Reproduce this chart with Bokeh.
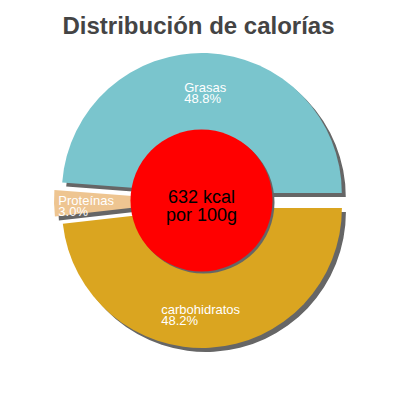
import numpy as np
from bokeh.plotting import figure
from bokeh.models import Range1d, ColumnDataSource
from bokeh.embed import file_html
from bokeh.resources import INLINE
from bokeh.core.properties import value

# ---- data ----
title_text = "Distribución de calorías"
labels = ["Grasas", "Proteínas", "carbohidratos"]
percents = [48.8, 3.0, 48.2]
colors = ["#7AC5CD", "#EEC591", "#DAA520"]
center_lines = ["632 kcal", "por 100g"]

# ---- geometry (pixel-like data units; y up) ----
cx, cy = 201.0, 200.0
R = 140.0
explode = 7.5
shadow_dx, shadow_dy = 4.0, -4.0
inner_r = 71.0
label_r = 103.5
label_font = 13
FONT = "Liberation Sans"

frac = np.array(percents) / np.sum(percents)
ends = np.cumsum(frac) * 2 * np.pi
starts = np.concatenate([[0.0], ends[:-1]])
mids = (starts + ends) / 2
wx = cx + explode * np.cos(mids)
wy = cy + explode * np.sin(mids)

src = ColumnDataSource(dict(
    x=wx, y=wy, sx=wx + shadow_dx, sy=wy + shadow_dy,
    start=starts, end=ends, color=colors,
))

p = figure(width=384, height=384, x_range=Range1d(0, 384), y_range=Range1d(16, 400),
           output_backend="svg", toolbar_location=None, min_border=0)
p.xaxis.visible = False
p.yaxis.visible = False
p.grid.visible = False
p.outline_line_color = None
p.background_fill_color = "white"
p.border_fill_color = "white"

# shadows
p.wedge(x="sx", y="sy", radius=R, start_angle="start", end_angle="end", source=src,
        fill_color="#666666", line_color=None, direction="anticlock")
# slices
p.wedge(x="x", y="y", radius=R, start_angle="start", end_angle="end", source=src,
        fill_color="color", line_color=None, direction="anticlock")

# center circle with shadow
p.circle(x=[cx + 2], y=[cy - 2], radius=inner_r, fill_color="#666666", line_color=None)
p.circle(x=[cx], y=[cy], radius=inner_r, fill_color="#FF0000", line_color=None)

# slice labels
lx = wx + label_r * np.cos(mids)
ly = wy + label_r * np.sin(mids)
pct_txt = [f"{v:.1f}%" for v in percents]
widths = [0.55 * label_font * max(len(a), len(b)) for a, b in zip(labels, pct_txt)]
left = lx - np.array(widths) / 2
p.text(x=left, y=ly + 2.3, text=labels, text_color="white", text_font=value(FONT),
       text_font_size=f"{label_font}px", text_align="left", text_baseline="alphabetic")
p.text(x=left, y=ly - 8.8, text=pct_txt, text_color="white", text_font=value(FONT),
       text_font_size=f"{label_font}px", text_align="left", text_baseline="alphabetic")

# center text
p.text(x=[cx, cx], y=[cy + 4, cy - 14], text=center_lines, text_color="black",
       text_font=value(FONT), text_font_size="18px", text_align="center",
       text_baseline="alphabetic")

# title
p.text(x=[198], y=[400 - 25], text=[title_text], text_color="#444444",
       text_font=value(FONT), text_font_size="24px", text_font_style="bold",
       text_align="center", text_baseline="alphabetic")

open("out.html", "w").write(file_html(p, INLINE))
